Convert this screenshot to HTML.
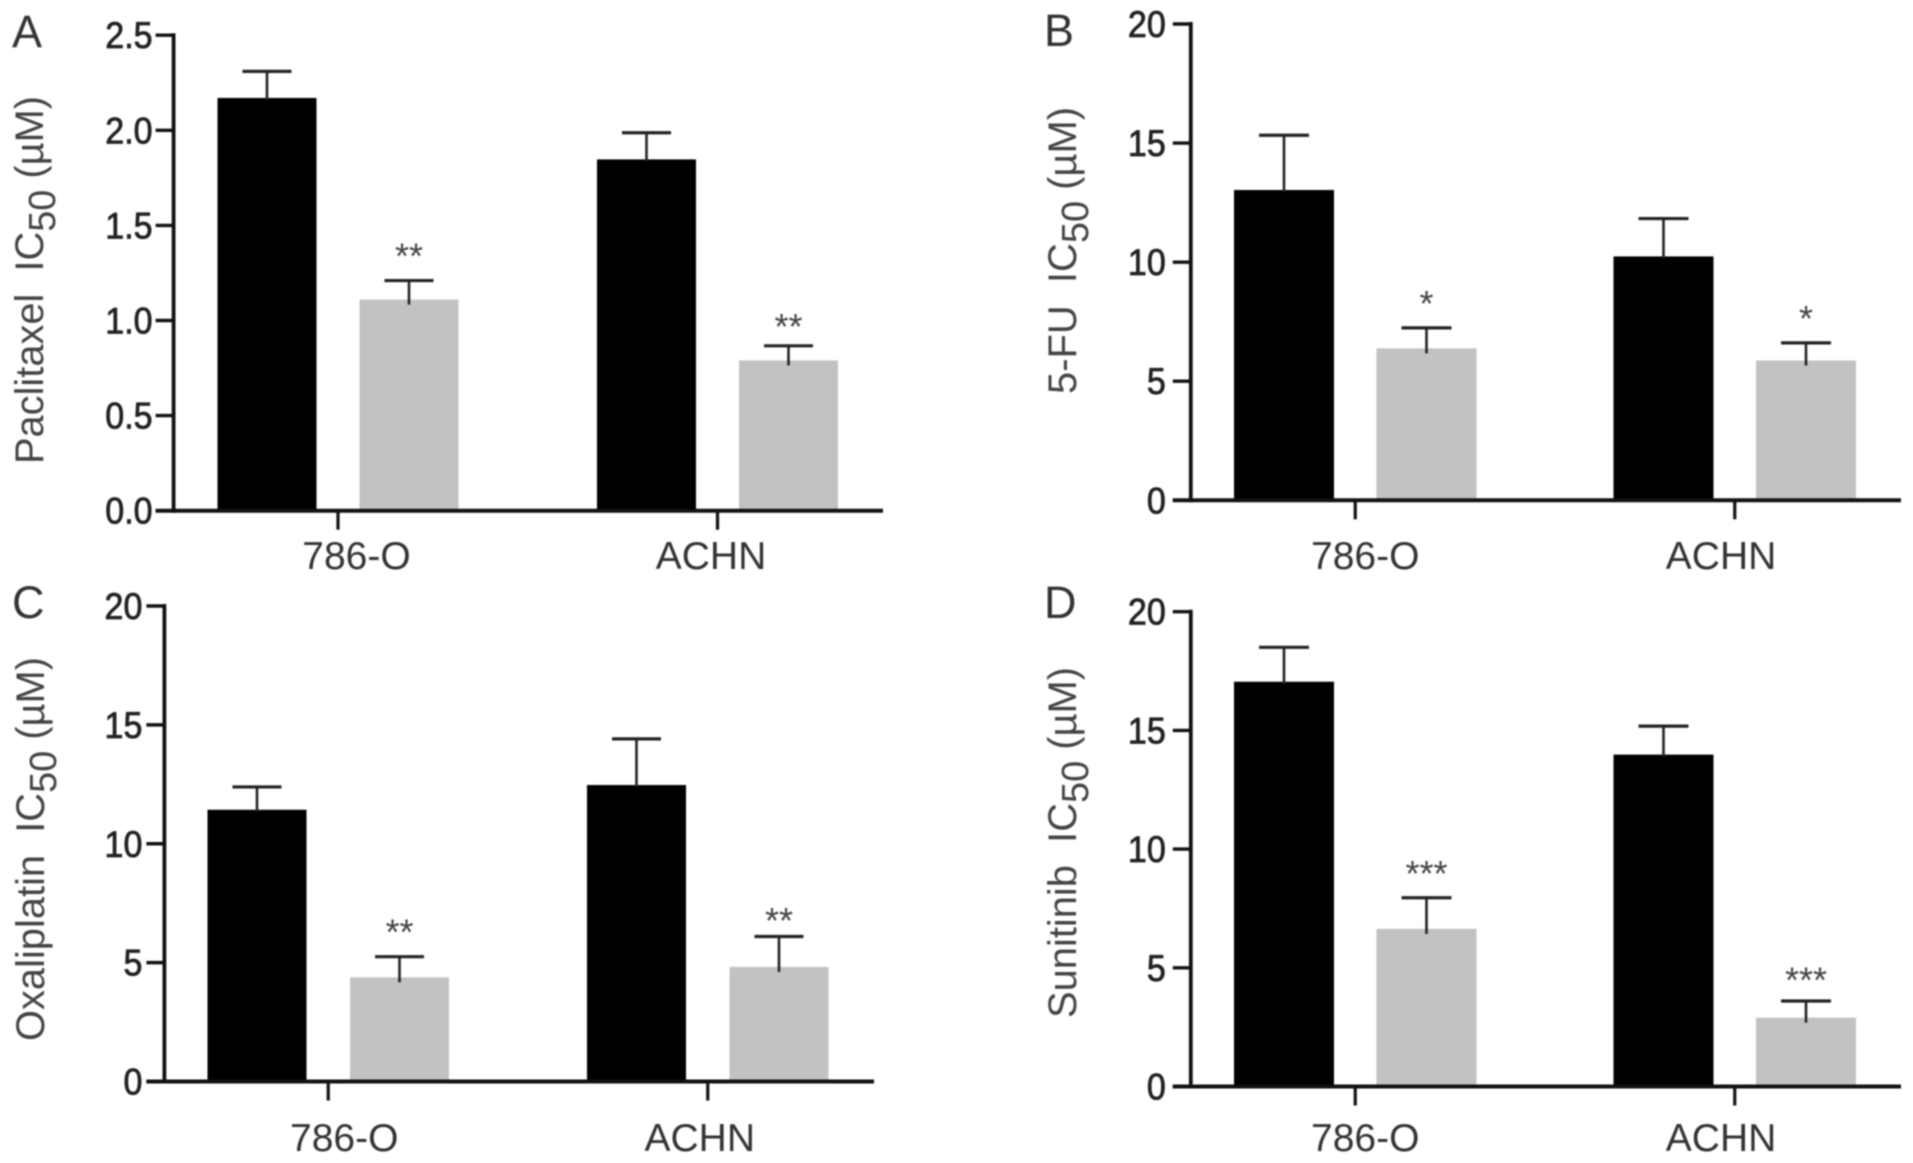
<!DOCTYPE html>
<html lang="en">
<head>
<meta charset="utf-8">
<title>IC50 bar charts</title>
<style>
html,body{margin:0;padding:0;background:#fff;width:1913px;height:1163px;overflow:hidden}
svg{display:block;filter:blur(0.8px)}
text{font-family:"Liberation Sans",Arial,sans-serif}
</style>
</head>
<body>
<svg id="figure" xmlns="http://www.w3.org/2000/svg" width="1913" height="1163" viewBox="0 0 1913 1163"></svg>
<script>
const categories = ['786-O', 'ACHN'];
const seriesNames = ['control', 'treated'];

const paclitaxelControl = [2.17, 1.847];
const paclitaxelControlErr = [0.14, 0.14];
const paclitaxelTreated = [1.11, 0.79];
const paclitaxelTreatedErr = [0.10, 0.077];
const paclitaxelStars = ['**', '**'];
const paclitaxelTicks = [0, 0.5, 1, 1.5, 2, 2.5];
const paclitaxelTickLabels = ['0.0', '0.5', '1.0', '1.5', '2.0', '2.5'];

const fluorouracilControl = [13.03, 10.24];
const fluorouracilControlErr = [2.3, 1.59];
const fluorouracilTreated = [6.38, 5.87];
const fluorouracilTreatedErr = [0.86, 0.74];
const fluorouracilStars = ['*', '*'];
const fluorouracilTicks = [0, 5, 10, 15, 20];
const fluorouracilTickLabels = ['0', '5', '10', '15', '20'];

const oxaliplatinControl = [11.43, 12.47];
const oxaliplatinControlErr = [0.96, 1.94];
const oxaliplatinTreated = [4.38, 4.82];
const oxaliplatinTreatedErr = [0.87, 1.28];
const oxaliplatinStars = ['**', '**'];
const oxaliplatinTicks = [0, 5, 10, 15, 20];
const oxaliplatinTickLabels = ['0', '5', '10', '15', '20'];

const sunitinibControl = [17.05, 13.98];
const sunitinibControlErr = [1.45, 1.2];
const sunitinibTreated = [6.64, 2.9];
const sunitinibTreatedErr = [1.31, 0.7];
const sunitinibStars = ['***', '***'];
const sunitinibTicks = [0, 5, 10, 15, 20];
const sunitinibTickLabels = ['0', '5', '10', '15', '20'];

const NS = 'http://www.w3.org/2000/svg';
const figure = document.getElementById('figure');

function make(tag, attrs, parent, content) {
  const node = document.createElementNS(NS, tag);
  for (const k in attrs) node.setAttribute(k, attrs[k]);
  if (content !== undefined) node.textContent = content;
  parent.appendChild(node);
  return node;
}

function drawPanel(p) {
  const id = p.letter.toLowerCase();
  const g = make('g', {}, figure);
  
  

  const yScale = v => p.y0 - (v - p.yMin) * (p.y0 - p.yTop) / (p.yMax - p.yMin);
  const xBar = (group, series) => p.x0 + group * p.groupStep + series * p.seriesStep;
  const xGroup = group => xBar(group, 0) + p.seriesStep / 2;

  // panel letter
  const letter = make('text', {x: p.letterX, y: p.letterY, 'font-size': 45, fill: '#333'}, g, p.letter);
  
  

  // bars, error bars, significance marks
  p.series.forEach((s, si) => {
    s.values.forEach((v, gi) => {
      const cx = xBar(gi, si);
      const top = yScale(v);
      const capY = yScale(v + s.errors[gi]);
      const bar = make('rect', {
        x: cx - p.barW / 2, y: top, width: p.barW, height: p.y0 - top,
        fill: si === 0 ? '#000' : '#c2c2c2'
      }, g);
      
      

      const stem = make('line', {x1: cx, x2: cx, y1: capY, y2: top + (si === 0 ? 2 : 5), stroke: '#222', 'stroke-width': 2.6}, g);
      
      

      const cap = make('line', {x1: cx - p.capW / 2, x2: cx + p.capW / 2, y1: capY, y2: capY, stroke: '#222', 'stroke-width': 3.2}, g);
      
      

      if (s.stars && s.stars[gi]) {
        const star = make('text', {
          x: cx, y: capY - p.starGap[gi], 'font-size': 36, fill: '#444', 'text-anchor': 'middle'
        }, g, s.stars[gi]);
        
        
      }
    });
  });

  // y axis
  const yAxis = make('line', {x1: p.axisX, x2: p.axisX, y1: yScale(p.yMax) - 2, y2: p.y0 + 2, stroke: '#111', 'stroke-width': 3.8}, g);
  
  

  p.ticks.forEach((t, i) => {
    const ty = yScale(t);
    const tick = make('line', {x1: p.axisX - 18, x2: p.axisX, y1: ty, y2: ty, stroke: '#111', 'stroke-width': 3.4}, g);
    
    
    const lab = make('text', {
      transform: 'translate(' + (p.axisX - p.tickLabelGap) + ',' + (ty + 13) + ') scale(0.92,1)',
      'font-size': 37, fill: '#222', stroke: '#222', 'stroke-width': 0.8,
      'text-anchor': 'end'
    }, g, p.tickLabels[i]);
    
    
  });

  // x axis
  const xAxis = make('line', {x1: p.axisX - 18, x2: p.xEnd, y1: p.y0, y2: p.y0, stroke: '#111', 'stroke-width': 4}, g);
  
  

  categories.forEach((c, i) => {
    const tx = xGroup(i);
    const tick = make('line', {x1: tx, x2: tx, y1: p.y0, y2: p.y0 + 19, stroke: '#111', 'stroke-width': 3.2}, g);
    
    
    const lab = make('text', {
      x: tx + p.labelNudge[i], y: p.labelY, 'font-size': 39, fill: '#333', 'text-anchor': 'middle'
    }, g, c);
    
    
  });

  // y title
  const title = make('text', {
    transform: 'translate(' + p.titleX + ',' + p.titleBottom + ') rotate(-90)',
    'font-size': 40, fill: '#444', textLength: p.titleLen, lengthAdjust: 'spacingAndGlyphs'
  }, g);
  
  
  make('tspan', {}, title, p.title + '\u00a0\u00a0IC');
  make('tspan', {dy: 12, 'font-size': 38}, title, '50');
  make('tspan', {dy: -12}, title, '\u00a0(\u00b5M)');
}

drawPanel({
  letter: 'A', letterX: 12, letterY: 47,
  axisX: 173.6, xEnd: 883, y0: 510.7, yTop: 35.2, yMin: 0, yMax: 2.5,
  x0: 267, groupStep: 379.5, seriesStep: 142, barW: 99, capW: 49,
  ticks: paclitaxelTicks, tickLabels: paclitaxelTickLabels, tickLabelGap: 21,
  labelNudge: [18.5, -6.5], labelY: 569, starGap: [12, 7],
  title: 'Paclitaxel', titleX: 43, titleBottom: 464, titleLen: 368,
  series: [
    {values: paclitaxelControl, errors: paclitaxelControlErr},
    {values: paclitaxelTreated, errors: paclitaxelTreatedErr, stars: paclitaxelStars}
  ]
});

drawPanel({
  letter: 'B', letterX: 1044, letterY: 46,
  axisX: 1190.8, xEnd: 1901, y0: 500.3, yTop: 24, yMin: 0, yMax: 20,
  x0: 1284, groupStep: 379.5, seriesStep: 142.5, barW: 100, capW: 50,
  ticks: fluorouracilTicks, tickLabels: fluorouracilTickLabels, tickLabelGap: 25,
  labelNudge: [10, -13.7], labelY: 569, starGap: [12, 12],
  title: '5-FU', titleX: 1076, titleBottom: 394, titleLen: 287,
  series: [
    {values: fluorouracilControl, errors: fluorouracilControlErr},
    {values: fluorouracilTreated, errors: fluorouracilTreatedErr, stars: fluorouracilStars}
  ]
});

drawPanel({
  letter: 'C', letterX: 12, letterY: 618,
  axisX: 164.4, xEnd: 874, y0: 1081.5, yTop: 606, yMin: 0, yMax: 20,
  x0: 257, groupStep: 379.5, seriesStep: 142.5, barW: 99, capW: 49,
  ticks: oxaliplatinTicks, tickLabels: oxaliplatinTickLabels, tickLabelGap: 22,
  labelNudge: [16, -8], labelY: 1151, starGap: [12, 3.5],
  title: 'Oxaliplatin', titleX: 44, titleBottom: 1041, titleLen: 384,
  series: [
    {values: oxaliplatinControl, errors: oxaliplatinControlErr},
    {values: oxaliplatinTreated, errors: oxaliplatinTreatedErr, stars: oxaliplatinStars}
  ]
});

drawPanel({
  letter: 'D', letterX: 1044, letterY: 618,
  axisX: 1190.8, xEnd: 1901, y0: 1086.5, yTop: 611.7, yMin: 0, yMax: 20,
  x0: 1284, groupStep: 379.5, seriesStep: 142.5, barW: 100, capW: 50,
  ticks: sunitinibTicks, tickLabels: sunitinibTickLabels, tickLabelGap: 25,
  labelNudge: [10, -13.7], labelY: 1151, starGap: [12, 8.5],
  title: 'Sunitinib', titleX: 1076, titleBottom: 1018, titleLen: 351,
  series: [
    {values: sunitinibControl, errors: sunitinibControlErr},
    {values: sunitinibTreated, errors: sunitinibTreatedErr, stars: sunitinibStars}
  ]
});
</script>
</body>
</html>
